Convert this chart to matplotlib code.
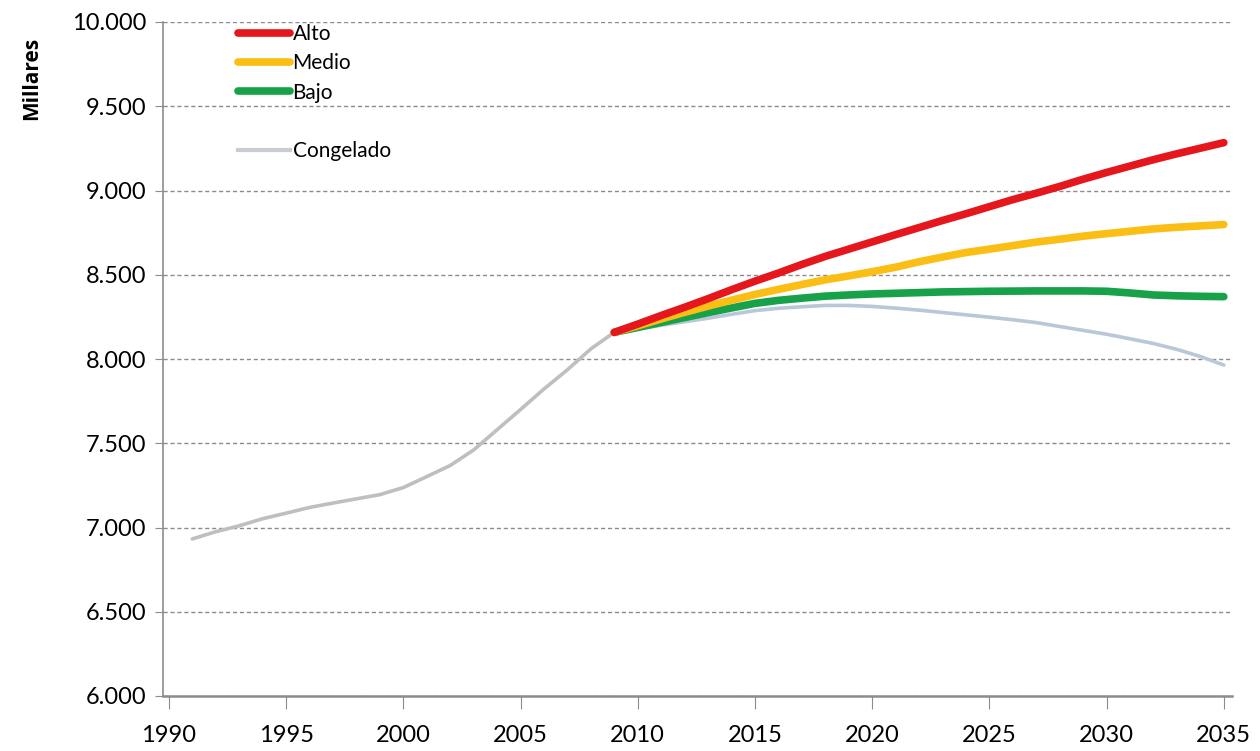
import matplotlib.pyplot as plt
import numpy as np

# historical series 1991-2009 (miles)
hist_years = list(range(1991, 2010))
hist = [6932, 6975, 7010, 7052, 7085, 7119, 7145, 7170, 7195, 7237,
        7302, 7368, 7460, 7580, 7700, 7822, 7936, 8060, 8158]

# projections 2009-2035
proj_years = list(range(2009, 2036))
alto = [8158, 8207, 8258, 8307, 8358, 8411, 8462, 8510, 8561, 8609,
        8652, 8695, 8738, 8780, 8822, 8862, 8904, 8946, 8984, 9024,
        9067, 9107, 9145, 9183, 9218, 9251, 9284]
medio = [8158, 8197, 8238, 8277, 8314, 8349, 8383, 8413, 8442, 8470,
         8493, 8518, 8545, 8577, 8605, 8632, 8652, 8673, 8694, 8711,
         8729, 8744, 8758, 8772, 8782, 8790, 8798]
bajo = [8158, 8187, 8217, 8246, 8275, 8303, 8330, 8348, 8361, 8373,
        8380, 8386, 8390, 8394, 8398, 8400, 8402, 8403, 8404, 8404,
        8404, 8402, 8392, 8380, 8375, 8372, 8370]
congelado = [8158, 8178, 8200, 8221, 8242, 8265, 8287, 8301, 8310, 8318,
             8318, 8312, 8302, 8290, 8276, 8262, 8248, 8233, 8216, 8193,
             8170, 8147, 8120, 8092, 8057, 8015, 7964]

yticks = list(range(6000, 10001, 500))
xticks = list(range(1990, 2036, 5))

fig = plt.figure(figsize=(12.6, 7.51), dpi=100)
ax = fig.add_axes([163 / 1260, 1 - 696 / 751, (1232 - 163) / 1260, (696 - 22) / 751])

ax.plot(hist_years, hist, color="#BFBFBF", lw=2.6, solid_capstyle="round", label="_hist")
ax.plot(proj_years, congelado, color="#B9C7D9", lw=2.6, solid_capstyle="round", label="Congelado")
ax.plot(proj_years, bajo, color="#17A24A", lw=5.5, solid_capstyle="round", label="Bajo")
ax.plot(proj_years, medio, color="#FBBE14", lw=5.5, solid_capstyle="round", label="Medio")
ax.plot(proj_years, alto, color="#E5161C", lw=5.5, solid_capstyle="round", label="Alto")

ax.set_xlim(1989.75, 2035.35)
ax.set_ylim(6000, 10000)
ax.set_yticks(yticks)
ax.set_yticklabels(["{:,}".format(v).replace(",", ".") for v in yticks],
                   family=["Lato", "DejaVu Sans"], fontsize=17)
ax.set_xticks(xticks)
ax.set_xticklabels([str(v) for v in xticks],
                   family=["Liberation Sans Narrow", "Lato", "DejaVu Sans"], fontsize=17)
ax.tick_params(axis="x", length=9, color="#8C8C8C", pad=12)
ax.tick_params(axis="y", length=6, color="#8C8C8C", pad=6)

ax.grid(axis="y", ls=(0, (3, 2)), color="#8C8C8C", lw=1)
ax.set_axisbelow(True)
for s in ["top", "right"]:
    ax.spines[s].set_visible(False)
for s in ["left", "bottom"]:
    ax.spines[s].set_color("#8C8C8C")
ax.spines["bottom"].set_linewidth(1.8)
ax.spines["left"].set_linewidth(1.2)

fig.text(32 / 1260, 1 - 78 / 751, "Millares", rotation=90, ha="center", va="center",
         fontsize=15, fontweight="bold", family=["Open Sans", "DejaVu Sans"])

# legend with a blank row before Congelado
h = {l.get_label(): l for l in ax.get_lines()}
blank = plt.Line2D([], [], color="none")
leg_cong = plt.Line2D([], [], color="#C8CDD3", lw=3)
handles = [h["Alto"], h["Medio"], h["Bajo"], blank, leg_cong]
labels = ["Alto", "Medio", "Bajo", "", "Congelado"]
ax.legend(handles, labels, loc="upper left", bbox_to_anchor=(0.053, 1.025), frameon=False,
          handlelength=2.5, handletextpad=0.1, labelspacing=0.45,
          prop={"family": ["Lato", "DejaVu Sans"], "size": 15})

fig.savefig("out.png", dpi=100)
